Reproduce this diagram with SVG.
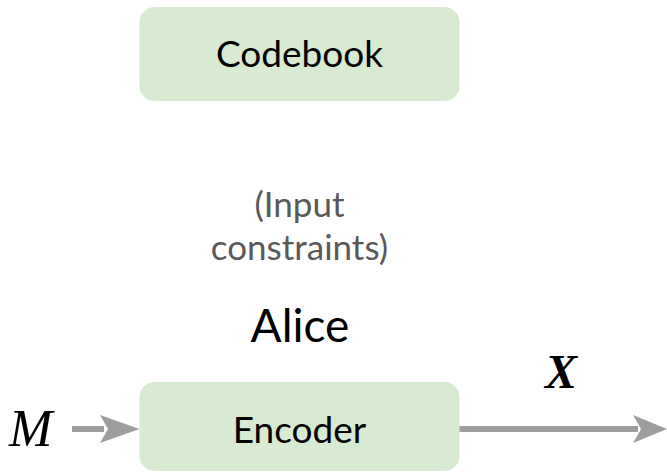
<svg xmlns="http://www.w3.org/2000/svg" width="667" height="472" viewBox="0 0 667 472">
<defs>
<style>
.box{fill:#d9ead3;stroke:none}
.lbl{font-family:Lato,"Open Sans","Liberation Sans",sans-serif;fill:#000;text-anchor:middle}
.note{font-family:Lato,"Open Sans","Liberation Sans",sans-serif;fill:#595959;text-anchor:middle}
.math{font-family:"Liberation Serif","Times New Roman",serif;font-style:italic;fill:#000}
.conn{stroke:#9e9e9e;stroke-width:6;fill:none}
.head{fill:#9e9e9e;stroke:none}
</style>
</defs>
<rect width="667" height="472" fill="#ffffff"/>
<g id="codebook">
<rect class="box" x="139.5" y="7" width="320" height="94" rx="15"/>
<text class="lbl" x="299.5" y="67" font-size="37">Codebook</text>
</g>
<g id="input-constraints">
<text class="note" x="299.5" y="217" font-size="35">(Input</text>
<text class="note" x="299.5" y="260" font-size="35">constraints)</text>
</g>
<g id="alice">
<text class="lbl" x="300" y="342" font-size="46">Alice</text>
</g>
<g id="encoder">
<rect class="box" x="139.5" y="382" width="320" height="89" rx="15"/>
<text class="lbl" x="299.5" y="443" font-size="37">Encoder</text>
</g>
<g id="label-M">
<text class="math" x="9" y="446" font-size="52">M</text>
</g>
<g id="label-X">
<text class="math" x="545" y="388" font-size="48" font-weight="bold">X</text>
</g>
<g id="connectors">
<line class="conn" x1="72" y1="429" x2="104" y2="429"/>
<path class="head" d="M139.5,429 L100,415 L108,429 L100,443 Z"/>
<line class="conn" x1="459.5" y1="429" x2="638" y2="429"/>
<path class="head" d="M667,429 L633,415 L641,429 L633,443 Z"/>
</g>
</svg>
